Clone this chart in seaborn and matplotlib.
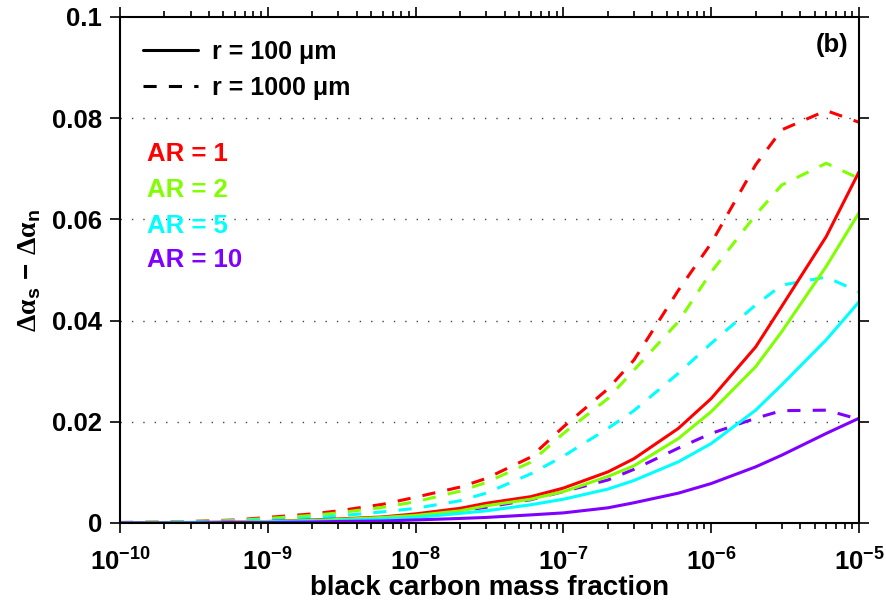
import numpy as np
import pandas as pd
import matplotlib
matplotlib.use("Agg")
import matplotlib.pyplot as plt
from matplotlib.lines import Line2D
from matplotlib.ticker import FixedLocator, FuncFormatter, LogLocator, NullFormatter
import seaborn as sns

# ---------------- data ----------------
bc_fraction = [1e-10, 2e-10, 3e-10, 6e-10, 1e-9, 2e-9, 3e-9, 6e-9, 1e-8, 2e-8, 3e-8,
               6e-8, 1e-7, 2e-7, 3e-7, 6e-7, 1e-6, 2e-6, 3e-6, 6e-6, 1e-5]

# r = 100 um (solid)
ar1_r100 = [0.0, 0.0001, 0.0001, 0.0002, 0.0003, 0.0006, 0.0008, 0.0012, 0.0018, 0.0029, 0.0039,
            0.0052, 0.0069, 0.0101, 0.0127, 0.0187, 0.0246, 0.0348, 0.0428, 0.0566, 0.0694]
ar2_r100 = [0.0, 0.0001, 0.0001, 0.0002, 0.0003, 0.0005, 0.0007, 0.0011, 0.0015, 0.0024, 0.0034,
            0.0047, 0.0062, 0.0092, 0.0113, 0.0167, 0.0220, 0.0309, 0.0378, 0.0507, 0.0613]
ar5_r100 = [0.0, 0.0, 0.0001, 0.0001, 0.0002, 0.0004, 0.0005, 0.0008, 0.0011, 0.0019, 0.0024,
            0.0036, 0.0047, 0.0067, 0.0084, 0.0121, 0.0157, 0.0223, 0.0273, 0.0362, 0.0437]
ar10_r100 = [0.0, 0.0, 0.0, 0.0001, 0.0001, 0.0002, 0.0003, 0.0004, 0.0006, 0.0009, 0.0011,
             0.0016, 0.0020, 0.0030, 0.0040, 0.0059, 0.0078, 0.0111, 0.0134, 0.0177, 0.0207]

# r = 1000 um (dashed)
ar1_r1000 = [0.0001, 0.0002, 0.0003, 0.0006, 0.0011, 0.0018, 0.0024, 0.0037, 0.0051, 0.0071, 0.0088,
             0.0130, 0.0190, 0.0265, 0.0322, 0.0460, 0.0553, 0.0708, 0.0777, 0.0815, 0.0792]
ar2_r1000 = [0.0001, 0.0002, 0.0003, 0.0005, 0.0009, 0.0015, 0.0020, 0.0031, 0.0042, 0.0063, 0.0080,
             0.0120, 0.0177, 0.0246, 0.0302, 0.0398, 0.0496, 0.0609, 0.0668, 0.0711, 0.0681]
ar5_r1000 = [0.0001, 0.0001, 0.0002, 0.0004, 0.0006, 0.0010, 0.0014, 0.0022, 0.0029, 0.0044, 0.0059,
             0.0097, 0.0132, 0.0187, 0.0222, 0.0296, 0.0355, 0.0431, 0.0470, 0.0486, 0.0457]
ar10_r1000 = [0.0, 0.0001, 0.0001, 0.0002, 0.0003, 0.0005, 0.0007, 0.0011, 0.0014, 0.0024, 0.0031,
              0.0046, 0.0062, 0.0085, 0.0106, 0.0148, 0.0177, 0.0207, 0.0222, 0.0223, 0.0205]

ar_labels = ["AR = 1", "AR = 2", "AR = 5", "AR = 10"]
ar_colors = ["#ff0000", "#80ff00", "#00ffff", "#8000ff"]
radius_labels = ["r = 100 \u03bcm", "r = 1000 \u03bcm"]
y_ticks = [0, 0.02, 0.04, 0.06, 0.08, 0.1]
y_tick_labels = ["0", "0.02", "0.04", "0.06", "0.08", "0.1"]

# ---------------- style ----------------
sns.set_theme(style="white")
plt.rcParams["font.family"] = ["Liberation Sans", "DejaVu Sans"]
plt.rcParams["font.weight"] = "bold"
plt.rcParams["text.color"] = "black"
plt.rcParams["axes.labelcolor"] = "black"
plt.rcParams["xtick.color"] = "black"
plt.rcParams["ytick.color"] = "black"
plt.rcParams["mathtext.fontset"] = "custom"
plt.rcParams["mathtext.rm"] = "Liberation Sans:bold"
plt.rcParams["mathtext.bf"] = "Liberation Sans:bold"
plt.rcParams["mathtext.it"] = "Liberation Sans:bold"
plt.rcParams["mathtext.sf"] = "Liberation Serif"

FS_TICK = 18.5
FS_XLAB = 20
FS_LEG = 18
FS_AR = 18.5
LW = 2.2
DASH = (0, (4.3, 4.0))

fig = plt.figure(figsize=(8.86, 6.04), dpi=100)
ax = fig.add_axes([120 / 886, 81 / 604, 739 / 886, 506 / 604])

solid_series = [ar1_r100, ar2_r100, ar5_r100, ar10_r100]
dashed_series = [ar1_r1000, ar2_r1000, ar5_r1000, ar10_r1000]

for vals, col in zip(dashed_series, ar_colors):
    sns.lineplot(x=bc_fraction, y=vals, color=col, linewidth=LW, linestyle=DASH, ax=ax)
for vals, col in zip(solid_series, ar_colors):
    sns.lineplot(x=bc_fraction, y=vals, color=col, linewidth=LW, linestyle="-", ax=ax)

ax.set_xscale("log")
ax.set_xlim(1e-10, 1e-5)
ax.set_ylim(0, 0.1)

# grid (horizontal dotted)
for yv in y_ticks[1:-1]:
    ax.axhline(yv, color="#444444", linewidth=1.0, linestyle=(0, (1, 7.2)), zorder=0)

ax.yaxis.set_major_locator(FixedLocator(y_ticks))
ax.set_yticklabels(y_tick_labels)
ax.xaxis.set_major_locator(LogLocator(base=10, numticks=20))
ax.xaxis.set_minor_locator(LogLocator(base=10, subs=np.arange(2, 10), numticks=20))
ax.xaxis.set_minor_formatter(NullFormatter())
ax.xaxis.set_major_formatter(FuncFormatter(lambda v, p: r"$10^{%d}$" % int(round(np.log10(v)))))

for sp in ax.spines.values():
    sp.set_color("black")
    sp.set_linewidth(1.5)

ax.tick_params(which="both", direction="out", top=True, right=True, bottom=True, left=True,
               color="black", width=1.2)
ax.tick_params(which="major", length=7, labelsize=FS_TICK)
ax.tick_params(which="minor", length=4)
ax.tick_params(axis="x", pad=11)
ax.tick_params(axis="y", pad=6)
for lab in ax.get_xticklabels() + ax.get_yticklabels():
    lab.set_fontweight("bold")

ax.set_xlabel("black carbon mass fraction", fontsize=FS_XLAB, fontweight="bold", labelpad=0)
ax.set_ylabel(r"$\mathsf{\Delta\alpha}_\mathbf{s}\ \mathbf{-}\ \mathsf{\Delta\alpha}_\mathbf{n}$",
              fontsize=FS_XLAB, labelpad=6)

# legend for radius
handles = [Line2D([], [], color="black", linewidth=LW, linestyle="-"),
           Line2D([], [], color="black", linewidth=LW, linestyle=DASH)]
leg = ax.legend(handles, radius_labels, loc="upper left", bbox_to_anchor=(0.0, 1.0),
                frameon=False, handlelength=2.2, handletextpad=0.6,
                labelspacing=0.5, borderaxespad=0.5, prop={"weight": "bold", "size": FS_LEG})

# AR labels
ar_y = [0.729, 0.658, 0.587, 0.520]
for lab, col, yy in zip(ar_labels, ar_colors, ar_y):
    ax.text(0.0365, yy, lab, color=col, fontsize=FS_AR, fontweight="bold",
            transform=ax.transAxes, ha="left", va="center")

ax.text(0.985, 0.945, "(b)", fontsize=FS_AR, fontweight="bold", transform=ax.transAxes,
        ha="right", va="center")

fig.savefig("out.png", dpi=100)
